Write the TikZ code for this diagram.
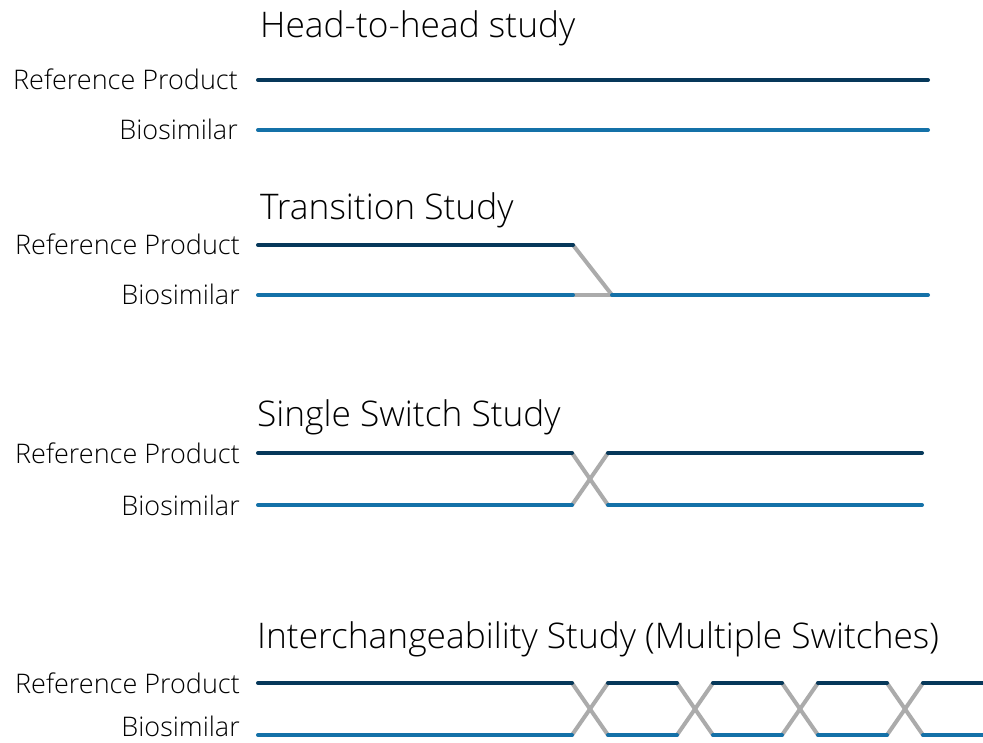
\documentclass[tikz,border=0pt]{standalone}
\usepackage{fontspec}
\setmainfont{Open Sans}[UprightFont={* Light}]
\definecolor{refcol}{HTML}{06385A}
\definecolor{biocol}{HTML}{1471A8}
\definecolor{swcol}{HTML}{ABABAB}
\begin{document}
\begin{tikzpicture}[x=1pt,y=-1pt,
  title/.style={anchor=base west,inner sep=0pt,font=\fontsize{35.3}{38}\selectfont},
  arm/.style={anchor=base east,inner sep=0pt,font=\fontsize{27}{30}\selectfont},
  refline/.style={draw=refcol,line width=4pt,line cap=round},
  bioline/.style={draw=biocol,line width=4pt,line cap=round},
  swline/.style={draw=swcol,line width=4pt,line cap=round}]
\useasboundingbox (0,0) rectangle (983,743);

% --- Head-to-head study
\node[title] (t1) at (260,38) {Head-to-head study};
\node[arm] (r1) at (238,90) {Reference Product};
\node[arm] (b1) at (238,140) {Biosimilar};
\coordinate (r1a) at (258,80); \coordinate (r1b) at (928,80);
\coordinate (b1a) at (258,130); \coordinate (b1b) at (928,130);
\draw[refline] (r1a) -- (r1b);
\draw[bioline] (b1a) -- (b1b);

% --- Transition study
\node[title] (t2) at (260,220) {Transition Study};
\node[arm] (r2) at (240,255) {Reference Product};
\node[arm] (b2) at (240,305) {Biosimilar};
\coordinate (r2a) at (258,245); \coordinate (r2b) at (573,245);
\coordinate (b2a) at (258,295); \coordinate (b2b) at (573,295);
\coordinate (b2c) at (612,295); \coordinate (b2d) at (928,295);
\draw[swline] (r2b) -- (b2c);
\draw[swline] (b2b) -- (b2c);
\draw[refline] (r2a) -- (r2b);
\draw[bioline] (b2a) -- (b2b);
\draw[bioline] (b2c) -- (b2d);

% --- Single switch study
\node[title] (t3) at (257,426) {Single Switch Study};
\node[arm] (r3) at (240,463) {Reference Product};
\node[arm] (b3) at (240,515) {Biosimilar};
\coordinate (r3a) at (258,453); \coordinate (r3b) at (572,453);
\coordinate (r3c) at (608,453); \coordinate (r3d) at (922,453);
\coordinate (b3a) at (258,505); \coordinate (b3b) at (572,505);
\coordinate (b3c) at (608,505); \coordinate (b3d) at (922,505);
\draw[swline] (r3b) -- (b3c);
\draw[swline] (b3b) -- (r3c);
\draw[refline] (r3a) -- (r3b);
\draw[refline] (r3c) -- (r3d);
\draw[bioline] (b3a) -- (b3b);
\draw[bioline] (b3c) -- (b3d);

% --- Interchangeability study
\node[title] (t4) at (257,648) {Interchangeability Study (Multiple Switches)};
\node[arm] (r4) at (240,693) {Reference Product};
\node[arm] (b4) at (240,736) {Biosimilar};
\coordinate (r4s) at (258,683);
\coordinate (b4s) at (258,735);
\foreach \k in {0,1,2,3} {
  \coordinate (rx\k) at ({572+105*\k},683);
  \coordinate (ry\k) at ({608+105*\k},683);
  \coordinate (bx\k) at ({572+105*\k},735);
  \coordinate (by\k) at ({608+105*\k},735);
  \draw[swline] (rx\k) -- (by\k);
  \draw[swline] (bx\k) -- (ry\k);
}
\coordinate (r4e) at (990,683);
\coordinate (b4e) at (990,735);
\draw[refline] (r4s) -- (rx0);
\draw[bioline] (b4s) -- (bx0);
\foreach \k/\n in {0/1,1/2,2/3} {
  \draw[refline] (ry\k) -- (rx\n);
  \draw[bioline] (by\k) -- (bx\n);
}
\draw[refline] (ry3) -- (r4e);
\draw[bioline] (by3) -- (b4e);
\end{tikzpicture}
\end{document}
